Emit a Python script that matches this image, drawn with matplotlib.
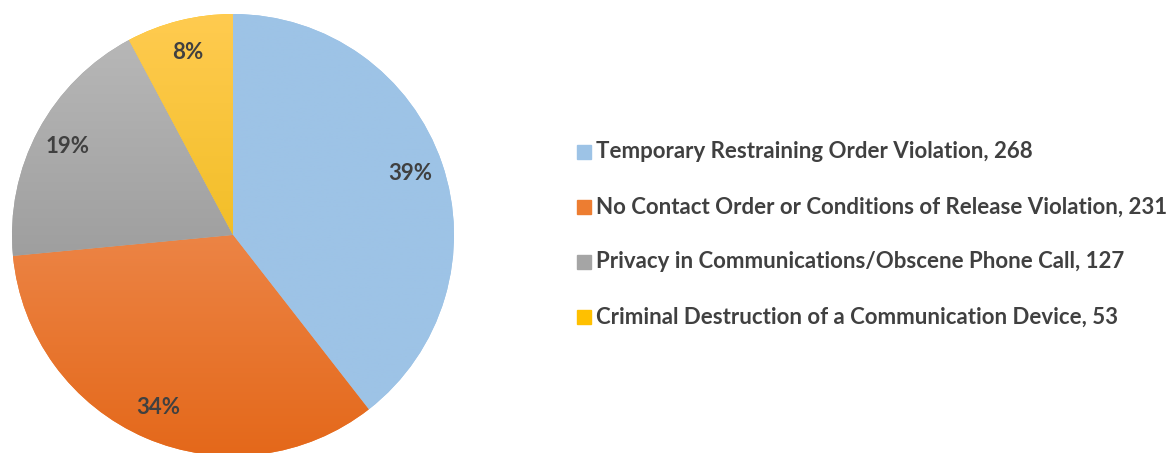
import matplotlib
matplotlib.use('Agg')
import matplotlib.pyplot as plt
import numpy as np
from matplotlib import colors as mcolors
from matplotlib.patches import Rectangle

plt.rcParams['font.family'] = ['Lato', 'DejaVu Sans']

# data
labels = ['Temporary Restraining Order Violation',
          'No Contact Order or Conditions of Release Violation',
          'Privacy in Communications/Obscene Phone Call',
          'Criminal Destruction of a Communication Device']
counts = [268, 231, 127, 53]

# (top colour, bottom colour) of the vertical gradient for each slice
grad = [('#9dc3e6', '#9dc3e6'),
        ('#f4a070', '#e4681a'),
        ('#bababa', '#888888'),
        ('#ffcb50', '#e6b200')]
legend_cols = ['#9dc3e6', '#ed7d31', '#a5a5a5', '#ffc000']
txt_col = '#404040'

fig = plt.figure(figsize=(11.66, 4.53), dpi=100)
ax = fig.add_axes([12/1166, -3/453, 442/1166, 442/453])

wedges, texts, autotexts = ax.pie(counts, startangle=90, counterclock=False,
                                  colors=legend_cols, autopct='%1.0f%%',
                                  pctdistance=0.85, radius=1,
                                  wedgeprops=dict(linewidth=0))

for w, (c1, c2) in zip(wedges, grad):
    cmap = mcolors.LinearSegmentedColormap.from_list('g', [c2, c1])
    img = ax.imshow(np.linspace(0, 1, 256).reshape(-1, 1), cmap=cmap,
                    extent=[-1, 1, -1, 1], origin='lower', aspect='auto',
                    zorder=w.get_zorder() + 0.1)
    img.set_clip_path(w)
ax.set_xlim(-1, 1)
ax.set_ylim(-1, 1)
ax.set_aspect('equal')

for t in autotexts:
    t.set_fontsize(16)
    t.set_fontweight('bold')
    t.set_color(txt_col)
    t.set_zorder(5)

# legend
ys = [152, 207, 262, 317]
for lab, n, col, y in zip(labels, counts, legend_cols, ys):
    fig.patches.append(Rectangle((577/1166, 1 - (y + 7)/453), 14/1166, 14/453,
                                 transform=fig.transFigure, color=col))
    fig.text(596/1166, 1 - y/453, '%s, %d' % (lab, n), fontsize=16,
             fontweight='bold', color=txt_col, va='center', ha='left')

plt.savefig('out.png', dpi=100)
